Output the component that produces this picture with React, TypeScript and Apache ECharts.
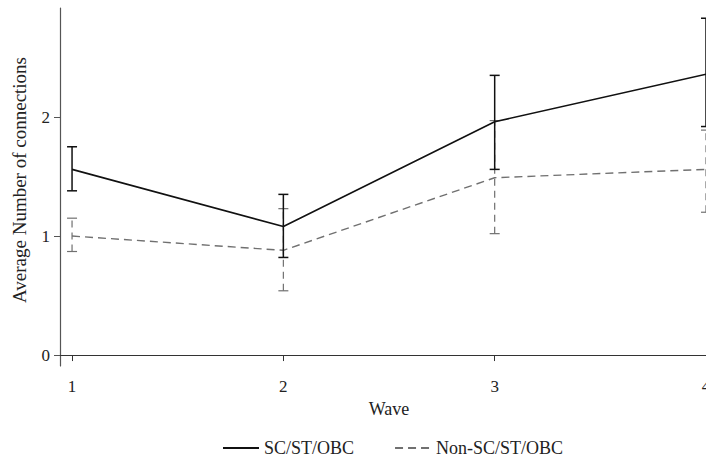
import React, { useEffect, useRef } from "react";
import * as echarts from "echarts";

const waves = [1, 2, 3, 4];
const waveTicks = [1, 2, 3, 4];
const yTicks = [0, 1, 2];
const seriesNames = ["SC/ST/OBC", "Non-SC/ST/OBC"];
const yTitle = "Average Number of connections";
const xTitle = "Wave";
const scMean = [1.56, 1.08, 1.96, 2.36];
const scLow = [1.38, 0.82, 1.56, 1.92];
const scHigh = [1.75, 1.35, 2.35, 2.83];
const nonMean = [1.0, 0.88, 1.49, 1.56];
const nonLow = [0.87, 0.54, 1.02, 1.2];
const nonHigh = [1.15, 1.23, 1.97, 1.89];

const FONT = "'Liberation Serif', 'DejaVu Serif', serif";
const SOLID = "#111111";
const DASH = "#707070";

function errorSeries(low: number[], high: number[], color: string, dashed: boolean) {
  return {
    type: "custom",
    silent: true,
    clip: false,
    z: 3,
    data: waves.map((w, i) => [w, low[i], high[i]]),
    renderItem: (_params: any, api: any) => {
      const x = api.value(0);
      const lo = api.coord([x, api.value(1)]);
      const hi = api.coord([x, api.value(2)]);
      const half = 5;
      const style = {
        stroke: color,
        lineWidth: dashed ? 1.2 : 1.5,
        lineDash: dashed ? [7, 5] : null,
      };
      const capStyle = { stroke: color, lineWidth: dashed ? 1.2 : 1.5 };
      return {
        type: "group",
        children: [
          { type: "line", shape: { x1: lo[0], y1: lo[1], x2: hi[0], y2: hi[1] }, style },
          { type: "line", shape: { x1: lo[0] - half, y1: lo[1], x2: lo[0] + half, y2: lo[1] }, style: capStyle },
          { type: "line", shape: { x1: hi[0] - half, y1: hi[1], x2: hi[0] + half, y2: hi[1] }, style: capStyle },
        ],
      };
    },
  };
}

export default function App() {
  const ref = useRef<HTMLDivElement>(null);
  useEffect(() => {
    if (!ref.current) return;
    const chart = echarts.init(ref.current, null, { renderer: "svg" });
    chart.setOption({
      animation: false,
      backgroundColor: "#ffffff",
      textStyle: { fontFamily: FONT },
      grid: { left: 60, top: 8, right: 0, bottom: 97, outerBoundsMode: "none", containLabel: false },
      graphic: [
        {
          type: "text",
          x: 19,
          y: 180,
          rotation: Math.PI / 2,
          style: {
            text: yTitle,
            fontFamily: FONT,
            fontSize: 19,
            fill: "#222",
            align: "center",
            verticalAlign: "middle",
          },
        },
      ],
      legend: {
        data: [
          { name: seriesNames[0] },
          { name: seriesNames[1] },
        ],
        bottom: 1,
        left: 217,
        itemWidth: 36,
        itemHeight: 10,
        itemGap: 40,
        itemStyle: { opacity: 0 },
        textStyle: { fontFamily: FONT, fontSize: 18, color: "#222" },
      },
      xAxis: {
        type: "value",
        min: 0.943,
        max: 4.0,
        name: xTitle,
        nameLocation: "middle",
        nameGap: 33,
        nameTextStyle: { fontFamily: FONT, fontSize: 18, color: "#222", padding: [0, 0, 0, 12] },
        axisLine: { show: true, lineStyle: { color: "#333", width: 1.2 } },
        axisTick: { show: true, length: 6, customValues: waveTicks, lineStyle: { color: "#333" } },
        axisLabel: { customValues: waveTicks, margin: 12, fontSize: 17, color: "#222", fontFamily: FONT },
        splitLine: { show: false },
      },
      yAxis: {
        type: "value",
        min: -0.092,
        max: 2.916,
        axisLine: { show: true, lineStyle: { color: "#555", width: 1.2 } },
        axisTick: { show: true, length: 6, customValues: yTicks, lineStyle: { color: "#555" } },
        axisLabel: { customValues: yTicks, margin: 10, fontSize: 17, color: "#222", fontFamily: FONT },
        splitLine: { show: false },
      },
      series: [
        {
          name: seriesNames[0],
          type: "line",
          symbol: "none",
          z: 4,
          data: waves.map((w, i) => [w, scMean[i]]),
          lineStyle: { color: SOLID, width: 1.6, type: "solid" },
          itemStyle: { color: SOLID },
        },
        {
          name: seriesNames[1],
          type: "line",
          symbol: "none",
          z: 2,
          data: waves.map((w, i) => [w, nonMean[i]]),
          lineStyle: { color: DASH, width: 1.4, type: [8, 5] },
          itemStyle: { color: DASH },
        },
        errorSeries(nonLow, nonHigh, DASH, true),
        errorSeries(scLow, scHigh, SOLID, false),
      ],
    });
    return () => chart.dispose();
  }, []);
  return <div ref={ref} style={{ position: "fixed", left: 0, top: 0, width: 706, height: 463 }} />;
}
